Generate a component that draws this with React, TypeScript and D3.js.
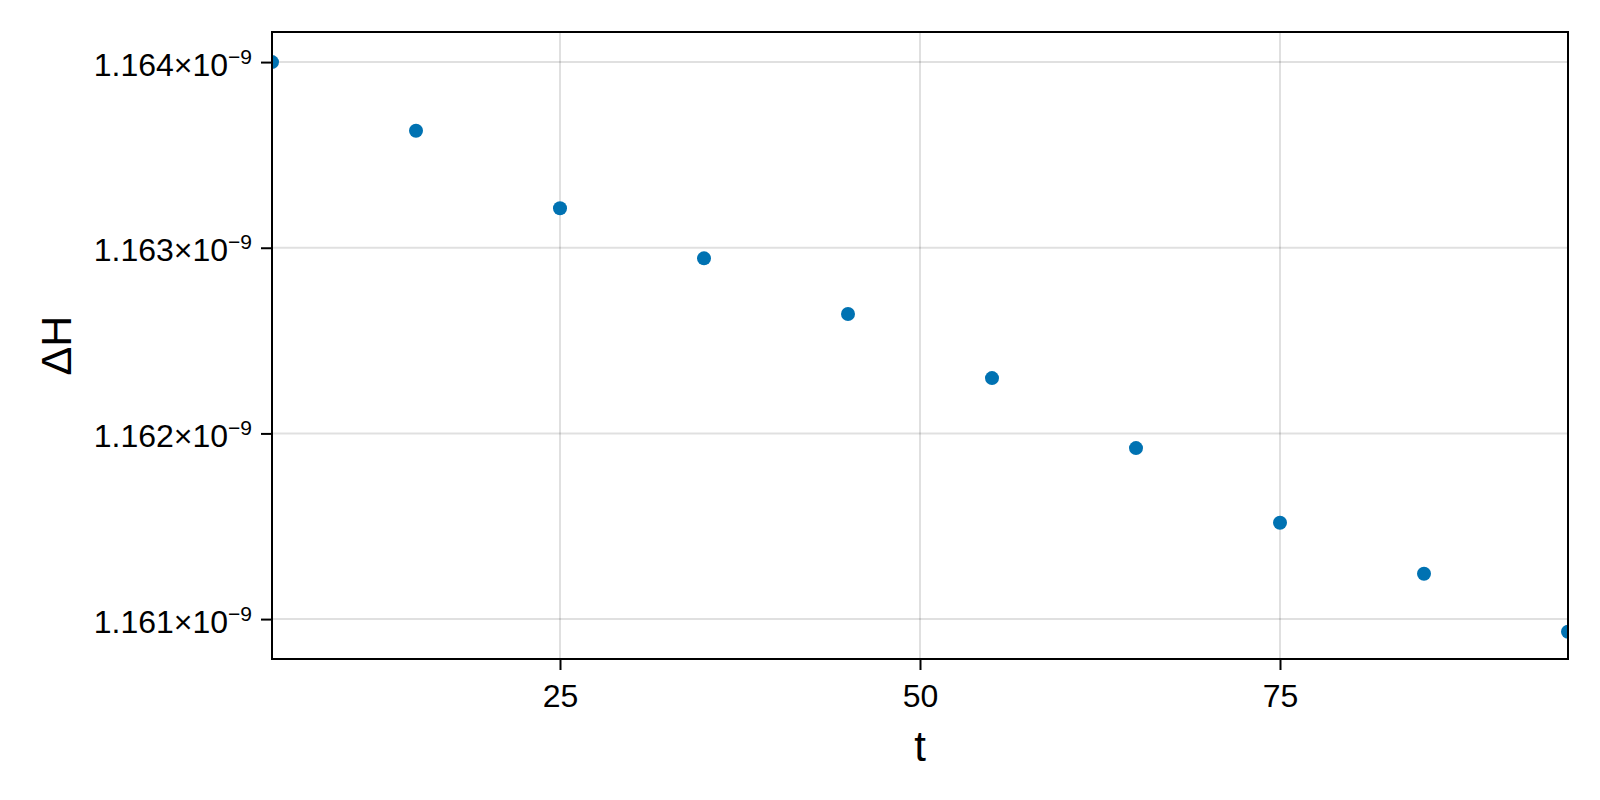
import React, { useEffect, useRef } from "react";
import { select, scaleLinear, axisBottom, axisLeft } from "d3";

// sampled times and the energy error at each one
const tValues = [5, 15, 25, 35, 45, 55, 65, 75, 85, 95];
const deltaH = [
  1.164e-9, 1.16363e-9, 1.163213e-9, 1.162943e-9, 1.162643e-9,
  1.162298e-9, 1.161921e-9, 1.161519e-9, 1.161244e-9, 1.160932e-9,
];

const xTicks = [25, 50, 75];
const yTicks = [1.161e-9, 1.162e-9, 1.163e-9, 1.164e-9];
const xLimits: [number, number] = [5, 95];
const yLimits: [number, number] = [1.160785e-9, 1.164162e-9];

const WIDTH = 1600;
const HEIGHT = 800;
const FONT = "'Liberation Sans', Arial, Helvetica, sans-serif";
const DOT = "#0072b2";

const App: React.FC = () => {
  const svgRef = useRef<SVGSVGElement>(null);

  useEffect(() => {
    document.body.style.margin = "0";
    if (!svgRef.current) return;

    const svg = select(svgRef.current);
    svg.selectAll("*").remove();

    const left = 272;
    const right = 1568;
    const top = 32;
    const bottom = 659;

    const x = scaleLinear().domain(xLimits).range([left, right]);
    const y = scaleLinear().domain(yLimits).range([bottom, top]);

    svg
      .append("defs")
      .append("clipPath")
      .attr("id", "plot-clip")
      .append("rect")
      .attr("x", left)
      .attr("y", top)
      .attr("width", right - left)
      .attr("height", bottom - top);

    // grid
    const grid = svg.append("g").attr("stroke", "rgba(0,0,0,0.12)").attr("stroke-width", 2);
    grid
      .selectAll(".gx")
      .data(xTicks)
      .enter()
      .append("line")
      .attr("x1", (d) => x(d))
      .attr("x2", (d) => x(d))
      .attr("y1", top)
      .attr("y2", bottom);
    grid
      .selectAll(".gy")
      .data(yTicks)
      .enter()
      .append("line")
      .attr("x1", left)
      .attr("x2", right)
      .attr("y1", (d) => y(d))
      .attr("y2", (d) => y(d));

    // points
    svg
      .append("g")
      .attr("clip-path", "url(#plot-clip)")
      .selectAll("circle")
      .data(tValues)
      .enter()
      .append("circle")
      .attr("cx", (d) => x(d))
      .attr("cy", (_, i) => y(deltaH[i]))
      .attr("r", 7)
      .attr("fill", DOT);

    // x axis
    const gx = svg
      .append("g")
      .attr("transform", `translate(0,${bottom})`)
      .call(axisBottom(x).tickValues(xTicks).tickSize(11).tickFormat((d) => String(d)));
    gx.select(".domain").remove();
    gx.selectAll("line").attr("stroke", "#000").attr("stroke-width", 2);
    gx.selectAll("text")
      .attr("y", 48)
      .attr("dy", null)
      .attr("fill", "#000")
      .style("font-family", FONT)
      .style("font-size", "32px");

    // y axis
    const gy = svg
      .append("g")
      .attr("transform", `translate(${left},0)`)
      .call(axisLeft(y).tickValues(yTicks).tickSize(11));
    gy.select(".domain").remove();
    gy.selectAll("line").attr("stroke", "#000").attr("stroke-width", 2);
    gy.selectAll<SVGTextElement, number>("text").each(function (d) {
      const t = select(this);
      t.text(null)
        .attr("x", -20)
        .attr("dy", null)
        .attr("y", 13)
        .attr("text-anchor", "end")
        .attr("fill", "#000")
        .style("font-family", FONT)
        .style("font-size", "32px");
      t.append("tspan").text(`${(d / 1e-9).toFixed(3)}×10`);
      t.append("tspan").attr("dy", -12).style("font-size", "21px").text("−9");
    });

    // frame
    svg
      .append("rect")
      .attr("x", left)
      .attr("y", top)
      .attr("width", right - left)
      .attr("height", bottom - top)
      .attr("fill", "none")
      .attr("stroke", "#000")
      .attr("stroke-width", 2);

    // axis labels
    svg
      .append("text")
      .attr("x", (left + right) / 2)
      .attr("y", 761)
      .attr("text-anchor", "middle")
      .style("font-family", FONT)
      .style("font-size", "42px")
      .text("t");

    svg
      .append("text")
      .attr("transform", `translate(71,${(top + bottom) / 2}) rotate(-90)`)
      .attr("text-anchor", "middle")
      .style("font-family", FONT)
      .style("font-size", "43px")
      .text("ΔH");
  }, []);

  return (
    <svg
      ref={svgRef}
      width={WIDTH}
      height={HEIGHT}
      viewBox={`0 0 ${WIDTH} ${HEIGHT}`}
      style={{ display: "block", background: "#fff" }}
    />
  );
};

export default App;
